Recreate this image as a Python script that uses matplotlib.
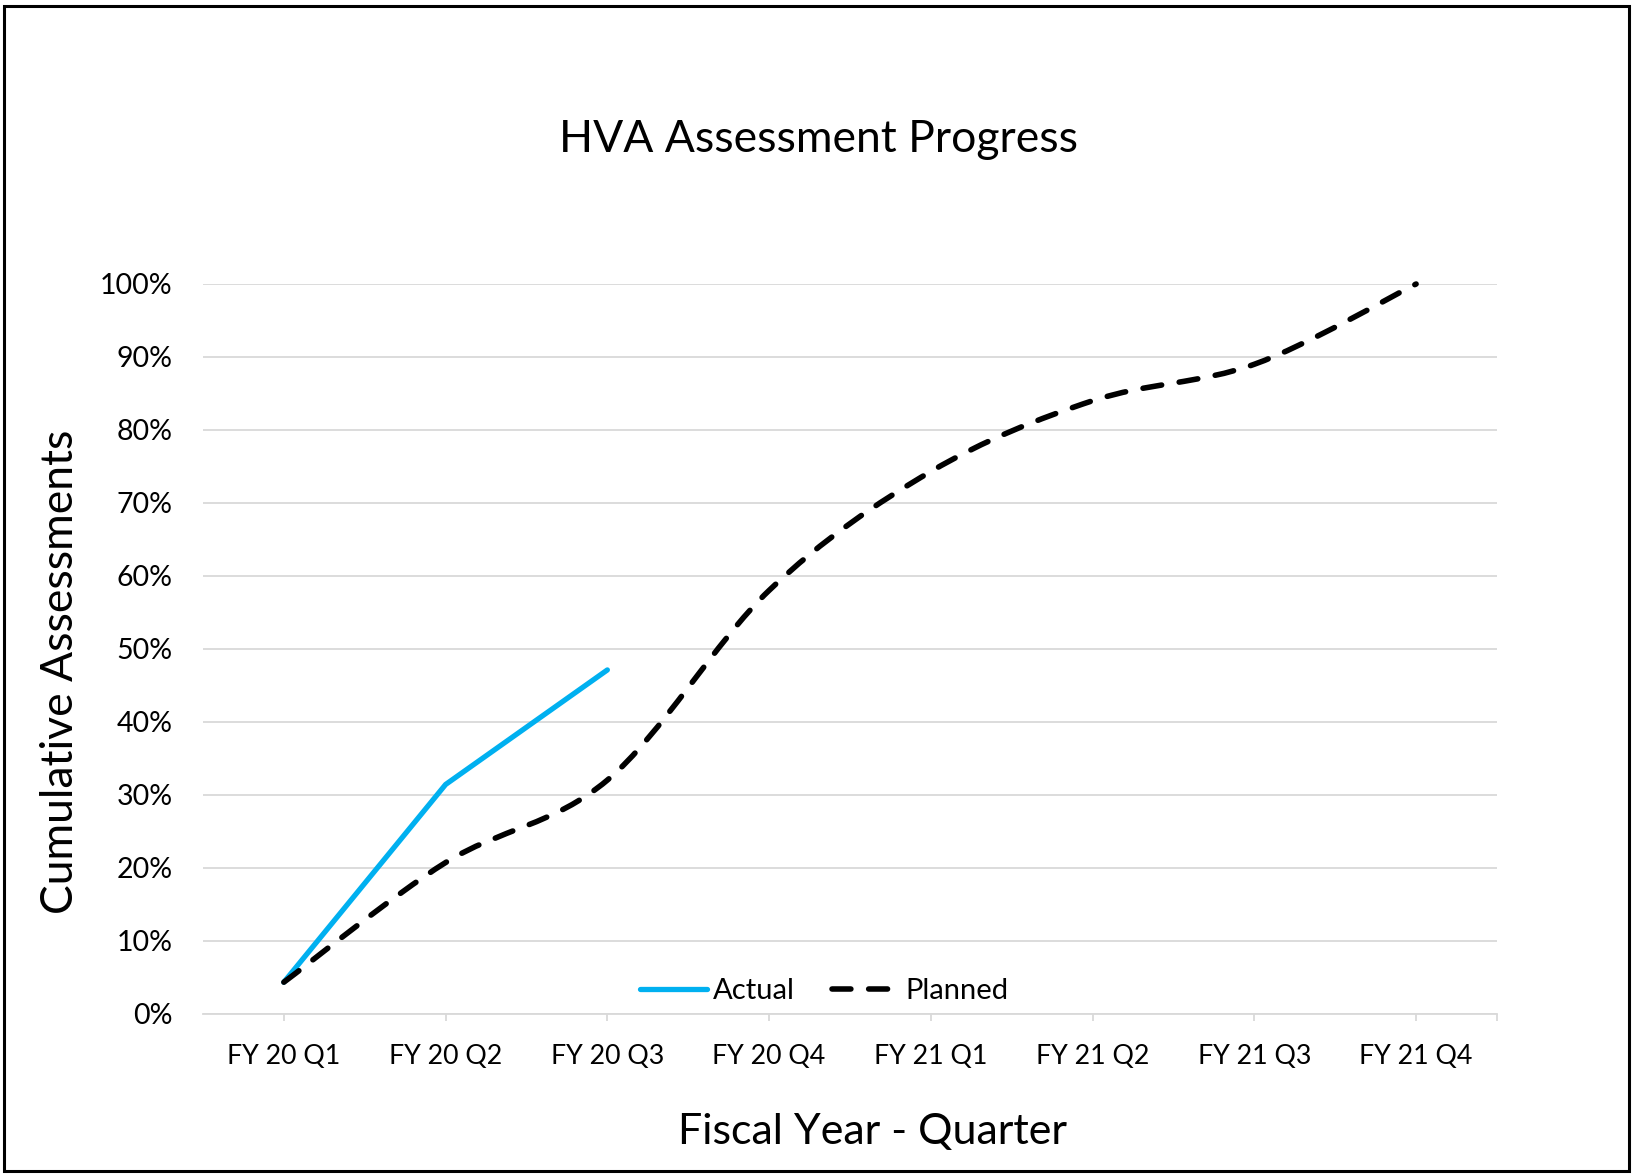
import numpy as np
import matplotlib
matplotlib.use("Agg")
import matplotlib.pyplot as plt
import matplotlib.ticker as mticker
from matplotlib.path import Path
from matplotlib.patches import PathPatch, Rectangle
from matplotlib.lines import Line2D

quarters = ["FY 20 Q1", "FY 20 Q2", "FY 20 Q3", "FY 20 Q4",
            "FY 21 Q1", "FY 21 Q2", "FY 21 Q3", "FY 21 Q4"]
actual = [0.043, 0.314, 0.471]
planned = [0.043, 0.207, 0.320, 0.580, 0.743, 0.840, 0.890, 1.000]

plt.rcParams["font.family"] = ["Lato", "DejaVu Sans"]


def smooth_path(xs, ys):
    # Excel-style smoothed line: cubic bezier segments through every point
    pts = np.column_stack([xs, ys]).astype(float)
    n = len(pts)
    verts = [pts[0]]
    codes = [Path.MOVETO]
    for i in range(n - 1):
        p0 = pts[i - 1] if i > 0 else pts[i]
        p1 = pts[i]
        p2 = pts[i + 1]
        p3 = pts[i + 2] if i + 2 < n else pts[i + 1]
        c1 = p1 + (p2 - p0) / 6.0
        c2 = p2 - (p3 - p1) / 6.0
        verts += [c1, c2, p2]
        codes += [Path.CURVE4] * 3
    return Path(verts, codes)


fig = plt.figure(figsize=(16.33, 11.75), dpi=100)
ax = fig.add_axes([0.1243, 0.1374, 0.7924, 0.6209])

x = np.arange(len(quarters))
ax.plot(x[:len(actual)], actual, color="#00B0F0", linewidth=3.8,
        solid_capstyle="round", solid_joinstyle="round", zorder=3)

dash = (0, (3.4, 3.2))
planned_patch = PathPatch(smooth_path(x, planned), facecolor="none",
                          edgecolor="black", linewidth=4.0,
                          linestyle=dash, capstyle="round", zorder=4,
                          clip_on=False)
ax.add_patch(planned_patch)

ax.set_xlim(-0.5, len(quarters) - 0.5)
ax.set_ylim(0, 1)
ax.set_xticks(x)
ax.set_xticklabels(quarters)
ax.xaxis.set_minor_locator(mticker.FixedLocator([len(quarters) - 0.5]))
ax.yaxis.set_major_locator(mticker.MultipleLocator(0.1))
ax.yaxis.set_major_formatter(mticker.PercentFormatter(1.0, decimals=0))

ax.grid(axis="y", color="#d9d9d9", linewidth=1.3)
ax.set_axisbelow(True)
for s in ["top", "right", "left"]:
    ax.spines[s].set_visible(False)
ax.spines["bottom"].set_color("#d9d9d9")
ax.spines["bottom"].set_linewidth(1.3)

ax.tick_params(axis="x", which="both", length=5, width=1.3, color="#d9d9d9",
               labelsize=19.3, pad=17, direction="out")
ax.tick_params(axis="y", length=0, labelsize=20.5, pad=22)

fig.text(0.037, 0.428, "Cumulative Assessments", fontsize=32,
         rotation=90, ha="center", va="center")
fig.text(0.5345, 0.037, "Fiscal Year - Quarter", fontsize=31,
         ha="center", va="center")
fig.text(0.501, 0.881, "HVA Assessment Progress", fontsize=32,
         ha="center", va="center")

handles = [Line2D([], [], color="#00B0F0", linewidth=3.8, solid_capstyle="round"),
           Line2D([], [], color="black", linewidth=4.0, linestyle=dash,
                  dash_capstyle="round")]
ax.legend(handles, ["Actual", "Planned"], loc="center",
          bbox_to_anchor=(0.48, 0.031), ncol=2, frameon=False, fontsize=21,
          handlelength=2.3, handletextpad=0.2, columnspacing=1.3)

fig.patches.append(Rectangle((0.0025, 0.003), 0.995, 0.992, transform=fig.transFigure,
                             fill=False, edgecolor="black", linewidth=2.2))

fig.savefig("out.png", dpi=100)
